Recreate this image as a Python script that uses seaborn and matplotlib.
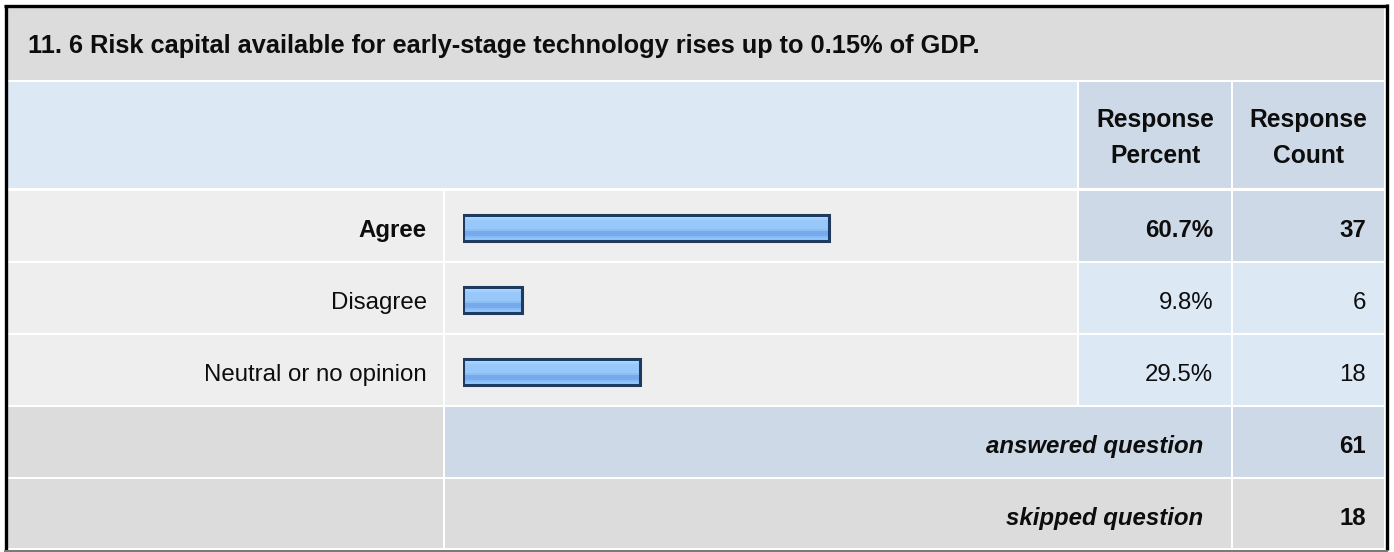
import numpy as np
import matplotlib
matplotlib.use("Agg")
import matplotlib.pyplot as plt
from matplotlib.patches import Rectangle
from matplotlib.colors import to_rgb
import seaborn as sns

# ---------------- data ----------------
title = "11. 6 Risk capital available for early-stage technology rises up to 0.15% of GDP."
categories = ["Agree", "Disagree", "Neutral or no opinion"]
percents = [60.7, 9.8, 29.5]
counts = [37, 6, 18]
answered = 61
skipped = 18
header_percent = "Response\nPercent"
header_count = "Response\nCount"

# ---------------- style ----------------
sns.set_theme(style="white")
plt.rcParams["font.family"] = ["Liberation Sans", "DejaVu Sans"]

W, H = 1394, 552
FS = 17.3
FS_T = 18.3
FS_H = 17.7
TXT = "#0d0d0d"
fig = plt.figure(figsize=(W / 100, H / 100), dpi=100)
fig.patch.set_facecolor("white")
ax = fig.add_axes([0, 0, 1, 1])
ax.set_xlim(0, W)
ax.set_ylim(H, 0)
ax.axis("off")

GRAY = "#dcdcdc"
LIGHT = "#eeeeee"
BLUE_H = "#dde8f5"
BLUE_D = "#cdd9e6"

cols = [(8, 443), (445, 1077), (1079, 1231), (1233, 1384)]
rows_data = [(191, 261), (263, 333), (335, 405)]


def cell(x0, x1, y0, y1, c):
    ax.add_patch(Rectangle((x0, y0), x1 - x0, y1 - y0, facecolor=c, edgecolor="none", zorder=1))


# title band
cell(8, 1384, 7, 80, GRAY)
ax.text(28, 53, title, fontsize=FS_T, fontweight="bold", ha="left", va="baseline", color=TXT, zorder=3)

# header row
cell(cols[0][0], cols[1][1], 82, 188, BLUE_H)
cell(cols[2][0], cols[2][1], 82, 188, BLUE_D)
cell(cols[3][0], cols[3][1], 82, 188, BLUE_D)
for (x0, x1), txt in [(cols[2], header_percent), (cols[3], header_count)]:
    l1, l2 = txt.split("\n")
    xc = (x0 + x1) / 2
    ax.text(xc, 127, l1, fontsize=FS_H, fontweight="bold", ha="center", va="baseline", color=TXT, zorder=3)
    ax.text(xc, 163, l2, fontsize=FS_H, fontweight="bold", ha="center", va="baseline", color=TXT, zorder=3)

# data rows
imax = int(np.argmax(percents))
for i, (y0, y1) in enumerate(rows_data):
    hi = i == imax
    cell(cols[0][0], cols[0][1], y0, y1, LIGHT)
    cell(cols[1][0], cols[1][1], y0, y1, LIGHT)
    cell(cols[2][0], cols[2][1], y0, y1, BLUE_D if hi else BLUE_H)
    cell(cols[3][0], cols[3][1], y0, y1, BLUE_D if hi else BLUE_H)
    fw = "bold" if hi else "normal"
    base = y0 + 46
    ax.text(427, base, categories[i], fontsize=FS, fontweight=fw, ha="right", va="baseline", color=TXT, zorder=3)
    ax.text(1213, base, f"{percents[i]:.1f}%", fontsize=FS, fontweight=fw, ha="right", va="baseline", color=TXT, zorder=3)
    ax.text(1366, base, f"{counts[i]}", fontsize=FS, fontweight=fw, ha="right", va="baseline", color=TXT, zorder=3)

# answered row
y0, y1 = 407, 477
cell(cols[0][0], cols[0][1], y0, y1, GRAY)
cell(cols[1][0], cols[2][1], y0, y1, BLUE_D)
cell(cols[3][0], cols[3][1], y0, y1, BLUE_D)
ax.text(1203, y0 + 46, "answered question", fontsize=FS, fontweight="bold", fontstyle="italic",
        ha="right", va="baseline", color=TXT, zorder=3)
ax.text(1366, y0 + 46, f"{answered}", fontsize=FS, fontweight="bold", ha="right", va="baseline", color=TXT, zorder=3)

# skipped row
y0, y1 = 479, 548
cell(cols[0][0], cols[0][1], y0, y1, GRAY)
cell(cols[1][0], cols[2][1], y0, y1, GRAY)
cell(cols[3][0], cols[3][1], y0, y1, GRAY)
ax.text(1203, y0 + 46, "skipped question", fontsize=FS, fontweight="bold", fontstyle="italic",
        ha="right", va="baseline", color=TXT, zorder=3)
ax.text(1366, y0 + 46, f"{skipped}", fontsize=FS, fontweight="bold", ha="right", va="baseline", color=TXT, zorder=3)

# outer border
ax.plot([5.5, 5.5], [5, 549.5], color="black", lw=2.4, zorder=4, solid_capstyle="butt")
ax.plot([4.3, 1387.7], [5.5, 5.5], color="black", lw=2.4, zorder=4, solid_capstyle="butt")
ax.plot([1386.5, 1386.5], [4.3, 550], color="black", lw=2.4, zorder=4, solid_capstyle="butt")
ax.plot([4.3, 1387.7], [550.5, 550.5], color="#777777", lw=1.4, zorder=4, solid_capstyle="butt")

# ---------------- bars ----------------
bar_left = 462.5
bar_full = 603.0
top = 191.5
band = 72.0
bax = fig.add_axes([bar_left / W, 1 - (top + 3 * band) / H, bar_full / W, 3 * band / H])
bax.patch.set_alpha(0)
sns.barplot(x=percents, y=categories, orient="h", ax=bax, width=26 / 72, color="#98c8fa",
            saturation=1, edgecolor="#1e3a5f", linewidth=2.2)
bax.set_xlim(0, 100)
bax.set_ylim(2.5, -0.5)
bax.axis("off")

stripes = ["#c8e3fd", "#b4d9fc", "#a2cffb", "#98c8fa", "#98c8fa", "#98c8fa", "#98c8fa",
           "#8cbff6", "#76aaec", "#76aaec", "#86bbf4", "#92c5f9"]
grad = np.array([to_rgb(c) for c in stripes]).reshape(len(stripes), 1, 3)
for p in list(bax.patches):
    x0, y, w, h = p.get_x(), p.get_y(), p.get_width(), p.get_height()
    bax.imshow(grad, extent=(x0, x0 + w, y + h, y), aspect="auto", origin="upper",
               interpolation="nearest", clip_path=p, zorder=1)
    p.set_facecolor("none")
    p.set_zorder(2)
bax.set_xlim(0, 100)
bax.set_ylim(2.5, -0.5)

fig.savefig("out.png", dpi=100, facecolor="white")
